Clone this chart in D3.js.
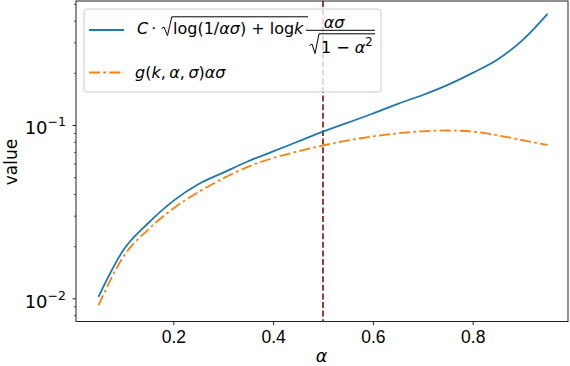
<!DOCTYPE html>
<html>
<head>
<meta charset="utf-8">
<script src="https://cdn.jsdelivr.net/npm/d3@7"></script>
<style>
html,body{margin:0;padding:0;background:#fff;}
svg{display:block;font-family:"DejaVu Sans",sans-serif;}
</style>
</head>
<body>
<svg id="chart" width="570" height="366"></svg>
<script>
// ---- data ----
const alphas = [0.05,0.10,0.15,0.20,0.25,0.30,0.35,0.40,0.45,0.50,0.55,0.60,0.65,0.70,0.75,0.80,0.85,0.90,0.95];
const boundValues = [0.0102,0.0190,0.0272,0.0365,0.0455,0.0531,0.0618,0.0704,0.0803,0.0915,0.1033,0.1165,0.1325,0.1490,0.1705,0.2000,0.2390,0.3090,0.4380];
const gValues = [0.0091,0.0174,0.0250,0.0330,0.0410,0.0492,0.0575,0.0645,0.0705,0.0762,0.0815,0.0860,0.0895,0.0920,0.0930,0.0916,0.0872,0.0817,0.0767];
const xTickValues = [0.2,0.4,0.6,0.8];
const xTickLabels = ["0.2","0.4","0.6","0.8"];
const yMajorTicks = [0.01,0.1];
const yMajorExponents = ["−2","−1"];
const markerAlpha = 0.5;
const xDomain = [0.005,0.991];
const yDomain = [0.00735,0.5194];

// ---- layout ----
const L = 76, R = 568, T = 1, B = 321.5;
const svg = d3.select("#chart");
const x = d3.scaleLinear().domain(xDomain).range([L,R]);
const y = d3.scaleLog().domain(yDomain).range([B,T]);

svg.append("defs").append("clipPath").attr("id","clip")
  .append("rect").attr("x",L).attr("y",T).attr("width",R-L).attr("height",B-T);

const plot = svg.append("g").attr("clip-path","url(#clip)");

// vertical dashed line at alpha = 0.5
plot.append("line")
  .attr("x1",x(markerAlpha)).attr("x2",x(markerAlpha))
  .attr("y1",T).attr("y2",B)
  .attr("stroke","#9e3a3a").attr("stroke-width",2)
  .attr("stroke-dasharray","6,2.6");

const line = (vals) => d3.line()
  .x((d,i)=>x(alphas[i])).y(d=>y(d))
  .curve(d3.curveMonotoneX)(vals);

plot.append("path").attr("d",line(boundValues))
  .attr("fill","none").attr("stroke","#1f77b4").attr("stroke-width",1.8);
plot.append("path").attr("d",line(gValues))
  .attr("fill","none").attr("stroke","#ff7f0e").attr("stroke-width",1.8)
  .attr("stroke-dasharray","11,3.3,2.7,3.3");

// ---- axes ----
const xAxis = d3.axisBottom(x).tickValues(xTickValues)
  .tickFormat((d,i)=>xTickLabels[i]).tickSize(3.5).tickPadding(6);
const gx = svg.append("g").attr("transform",`translate(0,${B})`).call(xAxis);
gx.select(".domain").remove();
gx.selectAll("line").attr("stroke","#222").attr("stroke-width",1);
gx.selectAll("text").attr("font-size",17.5).attr("fill","#000")
  .attr("dy",null).attr("y",21.8);

// y axis: major + minor ticks
const yAxisMinor = d3.axisLeft(y)
  .tickValues(y.ticks().filter(v=>!yMajorTicks.some(m=>Math.abs(m-v)<1e-9)))
  .tickSize(2).tickFormat("");
const gym = svg.append("g").attr("transform",`translate(${L},0)`).call(yAxisMinor);
gym.select(".domain").remove();
gym.selectAll("line").attr("stroke","#222").attr("stroke-width",0.8);

const yAxisMajor = d3.axisLeft(y).tickValues(yMajorTicks).tickSize(3.5).tickFormat("");
const gy = svg.append("g").attr("transform",`translate(${L},0)`).call(yAxisMajor);
gy.select(".domain").remove();
gy.selectAll("line").attr("stroke","#222").attr("stroke-width",1);
yMajorTicks.forEach((v,i)=>{
  const t = svg.append("text").attr("x",66).attr("y",y(v)+9.2)
    .attr("text-anchor","end").attr("font-size",18).attr("fill","#000");
  t.append("tspan").text("10");
  t.append("tspan").attr("font-size",12.5).attr("dy",-7.8).text(yMajorExponents[i]);
});

// frame
svg.append("rect").attr("x",L).attr("y",T).attr("width",R-L).attr("height",B-T)
  .attr("fill","none").attr("stroke","#222").attr("stroke-width",1);

// axis labels
svg.append("text").attr("x",(L+R)/2-0.5).attr("y",361.5)
  .attr("text-anchor","middle").attr("font-size",17.5).attr("font-style","italic").text("α");
svg.append("text").attr("transform","translate(16.5,162) rotate(-90)")
  .attr("text-anchor","middle").attr("font-size",17).text("value");

// ---- legend ----
const lg = svg.append("g");
lg.append("rect").attr("x",84).attr("y",9).attr("width",297).attr("height",83)
  .attr("rx",3).attr("fill","#fff").attr("fill-opacity",0.8)
  .attr("stroke","#cccccc").attr("stroke-width",1);
lg.append("line").attr("x1",89).attr("x2",124).attr("y1",30).attr("y2",30)
  .attr("stroke","#1f77b4").attr("stroke-width",1.8);
lg.append("line").attr("x1",89).attr("x2",124).attr("y1",72.5).attr("y2",72.5)
  .attr("stroke","#ff7f0e").attr("stroke-width",1.8)
  .attr("stroke-dasharray","11,3.3,2.7,3.3");

const fs = 16;
function mtext(xp, yp, parts, anchor){
  const t = lg.append("text").attr("x",xp).attr("y",yp).attr("font-size",fs)
    .attr("fill","#000").attr("text-anchor",anchor||"start").attr("xml:space","preserve");
  parts.forEach(p=>{
    const s = t.append("tspan").text(p[0]);
    if(p[1]) s.attr("font-style","italic");
    if(p[2]) s.attr("font-size",p[2]);
    if(p[3]) s.attr("dy",p[3]);
    if(p[4]) s.attr("dx",p[4]);
  });
  return t;
}
// entry 1
mtext(137,34,[["C",1]]);
mtext(151,34,[["⋅",0]]);
lg.append("path").attr("d","M161.5,28.5 L164,27 L167.5,35.5 L171.8,16.8 L308,16.8")
  .attr("fill","none").attr("stroke","#000").attr("stroke-width",1);
mtext(173,34,[["log(1/",0],["ασ",1],[") + log",0],["k",1]]);
lg.append("line").attr("x1",306).attr("x2",375).attr("y1",30.3).attr("y2",30.3)
  .attr("stroke","#000").attr("stroke-width",1);
mtext(334,28,[["ασ",1]],"middle");
lg.append("path").attr("d","M309.5,45.5 L312,44 L315,53.5 L319,33.8 L375,33.8")
  .attr("fill","none").attr("stroke","#000").attr("stroke-width",1);
mtext(321,53,[["1 − ",0],["α",1],["2",0,11.5,-7]]);
// entry 2
mtext(135,78,[["g",1],["(",0],["k",1],[",",0],["α",1,0,0,3.5],[",",0],["σ",1,0,0,3.5],[")",0],["ασ",1]]);
</script>
</body>
</html>
